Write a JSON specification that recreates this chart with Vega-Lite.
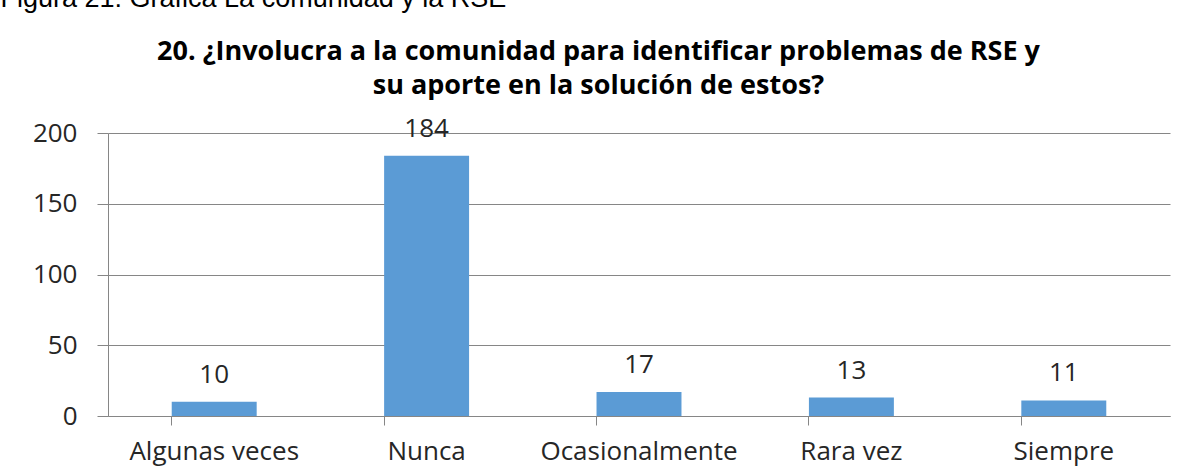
{
  "$schema": "https://vega.github.io/schema/vega-lite/v6.json",
  "width": 1062,
  "height": 283,
  "autosize": {"type": "none"},
  "padding": {"left": 108, "top": 133, "right": 22, "bottom": 60},
  "background": "white",
  "data": {
    "values": [
      {"respuesta": "Algunas veces", "cantidad": 10},
      {"respuesta": "Nunca", "cantidad": 184},
      {"respuesta": "Ocasionalmente", "cantidad": 17},
      {"respuesta": "Rara vez", "cantidad": 13},
      {"respuesta": "Siempre", "cantidad": 11}
    ]
  },
  "encoding": {
    "x": {
      "field": "respuesta",
      "type": "nominal",
      "sort": null,
      "scale": {"paddingInner": 0.6, "paddingOuter": 0.3},
      "axis": {
        "title": ["20. ¿Involucra a la comunidad para identificar problemas de RSE y", "su aporte en la solución de estos?"],
        "titleFont": "Open Sans",
        "titleFontSize": 27,
        "titleFontWeight": "bold",
        "titleColor": "#000000",
        "titleAlign": "center",
        "titleBaseline": "alphabetic",
        "titleLineHeight": 34,
        "titleX": 490,
        "titleY": -357,
        "labelAngle": 0,
        "labelLimit": 0,
        "labelFont": "Open Sans",
        "labelFontSize": 26,
        "labelColor": "#262626",
        "labelPadding": 13,
        "domainColor": "#868686",
        "tickColor": "#868686",
        "tickSize": 9,
        "bandPosition": 0,
        "grid": false
      }
    },
    "y": {
      "field": "cantidad",
      "type": "quantitative",
      "scale": {"domain": [0, 200], "nice": false},
      "axis": {
        "values": [0, 50, 100, 150, 200],
        "title": "Figura 21: Grafica La comunidad y la RSE",
        "titleFont": "Liberation Sans",
        "titleFontSize": 27,
        "titleFontWeight": "normal",
        "titleColor": "#000000",
        "titleAngle": 0,
        "titleAlign": "left",
        "titleBaseline": "alphabetic",
        "titleX": -108,
        "titleY": -127,
        "labelFont": "Open Sans",
        "labelFontSize": 26,
        "labelColor": "#262626",
        "labelPadding": 20,
        "domainColor": "#868686",
        "tickColor": "#868686",
        "tickSize": 11,
        "gridColor": "#868686",
        "grid": true
      }
    }
  },
  "layer": [
    {"mark": {"type": "bar", "color": "#5B9BD5"}},
    {
      "mark": {"type": "text", "baseline": "alphabetic", "dy": -19, "font": "Open Sans", "fontSize": 26, "color": "#262626"},
      "encoding": {"text": {"field": "cantidad", "type": "quantitative"}}
    }
  ],
  "config": {"view": {"stroke": null}}
}
